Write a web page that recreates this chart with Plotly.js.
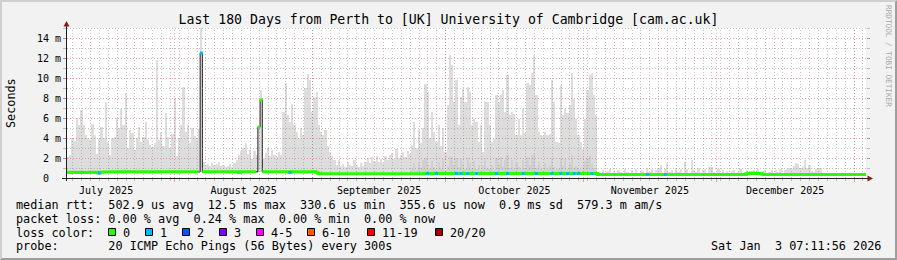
<!DOCTYPE html>
<html>
<head>
<meta charset="utf-8">
<script src="https://cdn.plot.ly/plotly-3.0.1.min.js"></script>
<style>
  html, body { margin: 0; padding: 0; background: #f2f2f2; }
  #chart { width: 897px; height: 260px; }
</style>
</head>
<body>
<div id="chart"></div>
<script>
// ---------------- DATA ----------------
const RANGE_START = '2025-07-07 16:48:00';
const RANGE_END   = '2026-01-03 16:48:00';
const BIN_HOURS = 12;            // one sample every 12 hours, 360 samples

// upper edge of the smoke (ms), one value per 12 h bin
const smokeMax = [
  2.1,2.3,4.0,3.7,6.0,5.3,6.8,5.3,4.3,4.0,
  3.8,5.4,4.3,2.4,3.9,5.1,4.0,7.6,3.6,2.3,
  4.0,4.1,6.0,5.0,6.9,5.3,8.5,3.0,4.8,4.5,
  2.8,4.0,5.1,3.6,4.1,5.6,3.8,3.3,3.1,3.5,
  11.8,3.8,4.6,3.2,6.5,4.1,3.0,4.4,8.0,2.2,
  4.0,5.3,9.1,4.6,5.3,3.5,5.0,4.2,4.0,4.9,
  15.5,
  1.6,1.3,1.4,1.2,1.5,1.3,1.4,1.6,1.2,1.3,1.1,1.2,1.4,1.1,1.5,1.8,
  2.3,2.7,3.0,3.5,2.4,2.8,1.9,2.7,2.3,
  5.2,8.8,
  2.0,2.5,3.0,2.2,2.8,2.3,2.1,2.6,2.3,
  6.6,9.5,6.3,5.6,7.4,5.3,
  4.6,4.0,5.0,4.3,9.0,
  10.4,9.8,6.6,8.1,8.6,
  5.3,4.6,4.3,4.8,3.2,2.6,2.2,1.8,
  1.3,1.8,1.2,1.4,1.1,1.6,1.3,1.2,1.8,1.3,1.1,1.5,1.2,
  1.6,2.0,1.5,2.1,1.7,2.2,1.6,1.9,1.5,2.2,1.8,2.3,
  2.5,1.9,2.9,2.0,2.3,2.6,2.1,2.7,2.4,
  3.3,5.6,3.0,4.8,3.5,5.0,9.4,8.6,4.0,
  6.6,4.6,3.6,5.3,3.2,5.0,2.6,7.3,12.3,11.3,
  7.6,9.8,5.3,8.1,8.9,7.6,9.1,8.6,
  5.3,5.9,5.6,3.6,5.3,2.6,7.7,7.6,5.3,
  3.6,3.9,8.3,7.6,8.3,8.8,6.6,10.3,6.3,
  6.6,6.4,4.3,5.9,4.3,6.9,4.5,9.5,9.3,10.5,
  12.3,8.3,4.6,4.3,4.2,4.6,4.3,4.4,9.8,7.6,
  3.6,3.5,9.3,6.3,6.9,6.5,7.3,10.5,7.9,5.9,
  4.3,3.6,2.9,5.9,8.8,10.3,10.5,8.3,6.3,
  0.6,0.5,0.8,0.5,0.7,0.9,0.5,0.7,0.5,0.8,0.6,0.5,0.9,0.6,0.5,0.8,0.5,0.9,0.5,0.7,
  0.8,0.5,1.0,0.6,0.9,0.5,0.8,1.0,1.3,0.5,0.9,1.5,0.6,0.8,0.5,1.0,0.6,0.9,0.5,1.6,
  0.9,0.5,1.8,0.8,0.6,1.0,0.5,0.8,0.9,0.5,1.1,1.1,0.6,0.5,0.9,0.5,0.8,0.5,0.7,0.5,
  0.7,0.8,0.5,0.6,0.9,0.5,0.6,0.8,0.5,0.6,0.8,0.5,0.9,0.5,0.7,0.8,0.5,0.6,0.8,0.5,
  0.8,0.6,0.9,0.5,0.8,0.9,1.0,0.9,1.2,1.5,1.4,1.0,1.1,1.8,1.0,1.3,0.7,0.6,0.9,1.0,
  1.0,0.7,1.0,0.6,0.9,1.1,0.6,0.9,0.7,0.5,0.9,0.6,0.9,0.7,0.9,0.6,0.9,0.8,0.6,0.9,0.5
];

// denser (darker) inner smoke, from bin 155 to bin 238
const INNER_FIRST_BIN = 155;
const smokeInner = [
  0.9,1.5,0.8,1.6,1.0,1.8,2.0,1.4,0.9,1.7,1.1,0.8,1.6,1.0,1.9,0.8,1.2,2.2,2.1,1.3,
  2.0,1.1,1.9,1.4,0.9,2.0,1.5,1.0,1.7,0.9,1.3,0.8,1.2,1.9,1.0,0.9,1.3,0.8,2.0,1.4,
  2.1,1.2,1.8,2.3,1.0,1.8,0.9,1.5,1.1,0.8,1.8,1.0,2.1,1.3,2.3,2.4,1.0,1.6,0.9,0.8,
  1.5,0.9,1.2,2.0,1.1,0.8,1.0,2.0,1.2,1.9,0.9,1.4,2.3,1.0,1.2,0.9,0.8,1.1,1.7,2.0,2.2,1.4,1.0,0.8
];

// median rtt (ms), one value per 12 h bin
const median = [
  0.57,0.55,0.57,0.58,0.55,0.56,0.58,0.55,0.54,0.56,0.58,0.57,0.55,0.57,0.50,0.58,0.60,0.60,0.61,0.60,
  0.62,0.62,0.61,0.62,0.62,0.61,0.62,0.62,0.63,0.62,0.62,0.61,0.62,0.62,0.62,0.62,0.61,0.62,0.62,0.62,
  0.61,0.62,0.62,0.62,0.62,0.63,0.62,0.62,0.62,0.62,0.61,0.62,0.62,0.62,0.62,0.63,0.62,0.62,0.62,0.61,
  12.5,0.62,0.62,0.62,0.61,0.62,0.62,0.62,0.62,0.62,0.62,0.62,0.61,0.62,0.62,0.62,0.62,0.55,0.62,0.62,
  0.62,0.62,0.62,0.62,0.62,0.62,5.1,7.8,0.62,0.62,0.62,0.61,0.62,0.62,0.62,0.62,0.62,0.62,0.62,0.62,
  0.56,0.62,0.62,0.62,0.62,0.62,0.62,0.61,0.62,0.62,0.62,0.62,0.58,0.44,0.43,0.43,0.42,0.43,0.43,0.43,
  0.43,0.42,0.43,0.43,0.43,0.43,0.42,0.43,0.43,0.43,0.43,0.43,0.42,0.43,0.43,0.43,0.43,0.43,0.43,0.42,
  0.43,0.43,0.43,0.43,0.43,0.43,0.43,0.42,0.43,0.43,0.43,0.43,0.43,0.43,0.43,0.43,0.43,0.43,0.43,0.43,
  0.43,0.44,0.44,0.43,0.44,0.44,0.44,0.44,0.44,0.45,0.44,0.44,0.44,0.45,0.44,0.44,0.44,0.44,0.45,0.44,
  0.44,0.44,0.44,0.44,0.45,0.44,0.44,0.44,0.45,0.44,0.44,0.44,0.44,0.44,0.45,0.44,0.44,0.44,0.44,0.44,
  0.44,0.45,0.44,0.44,0.44,0.44,0.44,0.44,0.45,0.44,0.44,0.44,0.44,0.44,0.44,0.45,0.44,0.44,0.44,0.44,
  0.44,0.44,0.45,0.44,0.44,0.44,0.44,0.44,0.44,0.45,0.44,0.44,0.44,0.44,0.44,0.44,0.45,0.44,0.44,0.35,
  0.35,0.35,0.36,0.35,0.35,0.35,0.35,0.36,0.35,0.35,0.35,0.35,0.35,0.36,0.35,0.35,0.35,0.35,0.35,0.35,
  0.35,0.36,0.35,0.35,0.35,0.35,0.35,0.35,0.36,0.35,0.35,0.35,0.35,0.35,0.35,0.36,0.35,0.35,0.35,0.35,
  0.35,0.35,0.35,0.36,0.35,0.35,0.35,0.35,0.35,0.35,0.35,0.36,0.35,0.35,0.35,0.35,0.35,0.35,0.35,0.35,
  0.35,0.35,0.36,0.35,0.35,0.35,0.42,0.46,0.50,0.44,0.48,0.42,0.45,0.38,0.35,0.35,0.35,0.36,0.35,0.35,
  0.35,0.35,0.35,0.35,0.35,0.35,0.36,0.35,0.35,0.35,0.35,0.35,0.35,0.35,0.36,0.35,0.35,0.35,0.35,0.35
];

// bins where the median jumps (drawn only as the dark median line)
const spikeBins   = [60, 86, 87];
const spikeLoss   = [1, 0, 0];           // loss count at those samples
// bins with 1/20 packets lost
const loss1Bins = [14,100,162,166,175,177,180,184,193,198,205,211,218,222,225,228,230,236,261,269,345,350,351];

// legend
const lossLabels = ['0','1','2','3','4-5','6-10','11-19','20/20'];
const lossColors = ['#26ff00','#00b8ff','#0059ff','#7e00ff','#ff00ff','#ff5a00','#ff0000','#a00000'];

const yTickVals = [0,2,4,6,8,10,12,14];
const yTickText = ['0  ','2 m','4 m','6 m','8 m','10 m','12 m','14 m'];

const TITLE = 'Last 180 Days from Perth to [UK] University of Cambridge [cam.ac.uk]';
const LEGEND_LINES = [
  'median rtt:  502.9 us avg  12.5 ms max  330.6 us min  355.6 us now  0.9 ms sd  579.3 m am/s',
  'packet loss: 0.00 % avg  0.24 % max  0.00 % min  0.00 % now',
  'loss color:',
  'probe:       20 ICMP Echo Pings (56 Bytes) every 300s'
];
const STAMP = 'Sat Jan  3 07:11:56 2026';
const WATERMARK = 'RRDTOOL / TOBI OETIKER';

// ---------------- HELPERS ----------------
const L = 67, R = 866, T = 28, B = 178;
const PX = x => (x - L) / (R - L);
const PY = y => (B - y) / (B - T);
const nb = s => s.replace(/ /g, '\u00a0');
const MONO = 'DejaVu Sans Mono';
const GRID = 'rgba(143,143,143,0.55)';
const MGRID = 'rgba(222,79,79,0.5)';
const DASH = '1px,2px';

const BIN_MS = BIN_HOURS * 3600 * 1000;
const t0 = Date.parse(RANGE_START.replace(' ', 'T') + 'Z');
const tEnd = Date.parse(RANGE_END.replace(' ', 'T') + 'Z');
const fmt = ms => new Date(ms).toISOString().replace('T', ' ').slice(0, 19);
const binStart = median.map((_, i) => fmt(t0 + i * BIN_MS));
const binMid = median.map((_, i) => fmt(t0 + i * BIN_MS + BIN_MS / 2));
const smokeBase = median.map(v => Math.min(v, 0.7) - 0.12);

// ---------------- TRACES ----------------
const traces = [
  {
    type: 'bar', x: binStart, base: smokeBase,
    y: smokeMax.map((v, i) => v - smokeBase[i]),
    width: BIN_MS, offset: 0,
    marker: {color: '#dddddd', line: {width: 0}},
    hoverinfo: 'skip'
  },
  {
    type: 'bar', x: binStart.slice(INNER_FIRST_BIN),
    base: smokeBase.slice(INNER_FIRST_BIN),
    y: smokeInner.map((v, i) => v - smokeBase[INNER_FIRST_BIN + i]),
    width: BIN_MS, offset: 0,
    marker: {color: '#d0d0d0', line: {width: 0}},
    hoverinfo: 'skip'
  },
  {
    type: 'scatter', mode: 'lines',
    x: binStart.concat([RANGE_END]), y: median.concat([median[median.length - 1]]),
    line: {color: '#202020', width: 1, shape: 'hv'},
    hoverinfo: 'skip'
  },
  {
    type: 'scatter', mode: 'lines',
    x: binStart.concat([RANGE_END]),
    y: median.map((v, i) => spikeBins.includes(i) ? null : v).concat([median[median.length - 1]]),
    connectgaps: false,
    line: {color: lossColors[0], width: 3, shape: 'hv'},
    hoverinfo: 'skip'
  },
  {
    type: 'scatter', mode: 'markers',
    x: loss1Bins.map(i => binMid[i]), y: loss1Bins.map(i => median[i]),
    marker: {symbol: 'square', size: 3, color: lossColors[1], line: {width: 0}},
    hoverinfo: 'skip'
  },
  {
    type: 'scatter', mode: 'markers',
    x: spikeBins.map(i => binMid[i]), y: spikeBins.map(i => median[i]),
    marker: {symbol: 'square', size: 3, color: spikeLoss.map(l => lossColors[l]), line: {width: 0}},
    hoverinfo: 'skip'
  }
];

// ---------------- SHAPES ----------------
const shapes = [];
const P = (x, y) => PX(x) + ',' + PY(y);

// grid drawn over the smoke (as rrdtool does)
const xPix = t => L + (t - t0) / (tEnd - t0) * (R - L);
const vline = (px, col) => ({type: 'line', xref: 'paper', yref: 'paper', layer: 'above',
  x0: PX(px), x1: PX(px), y0: 0, y1: 1, line: {color: col, width: 1, dash: DASH}});
const hline = (py, col) => ({type: 'line', xref: 'paper', yref: 'paper', layer: 'above',
  x0: 0, x1: 1, y0: PY(py), y1: PY(py), line: {color: col, width: 1, dash: DASH}});
for (let t = Date.parse('2025-07-07T00:00:00Z'); t < tEnd; t += 2 * 86400000) {
  if (t <= t0) continue;
  shapes.push(vline(Math.floor(xPix(t)) + 0.5, GRID));
}
for (let k = 1; k <= 6; k++) {
  const t = Date.UTC(2025, 6 + k, 1);
  shapes.push(vline(Math.floor(xPix(t)) + 0.5, MGRID));
}
for (let v = 1; v <= 15; v++) {
  shapes.push(hline(B + 0.5 - 10 * v, v % 2 === 0 ? MGRID : GRID));
}

// 3d border
shapes.push({type: 'path', xref: 'paper', yref: 'paper', layer: 'above',
  path: 'M' + P(0, 260) + 'L' + P(2, 258) + 'L' + P(2, 2) + 'L' + P(895, 2) + 'L' + P(897, 0) + 'L' + P(0, 0) + 'Z',
  fillcolor: '#cfcfcf', line: {width: 0}});
shapes.push({type: 'path', xref: 'paper', yref: 'paper', layer: 'above',
  path: 'M' + P(2, 258) + 'L' + P(895, 258) + 'L' + P(895, 2) + 'L' + P(897, 0) + 'L' + P(897, 260) + 'L' + P(0, 260) + 'Z',
  fillcolor: '#9e9e9e', line: {width: 0}});
// axes
shapes.push({type: 'line', xref: 'paper', yref: 'paper', x0: PX(66.5), x1: PX(66.5), y0: PY(181), y1: PY(25),
  line: {color: '#1f1f1f', width: 1}});
shapes.push({type: 'line', xref: 'paper', yref: 'paper', x0: PX(62), x1: PX(868), y0: PY(178.5), y1: PY(178.5),
  line: {color: '#1f1f1f', width: 1}});
shapes.push({type: 'path', xref: 'paper', yref: 'paper',
  path: 'M' + P(66.5, 21) + 'L' + P(63.5, 26.5) + 'L' + P(69.5, 26.5) + 'Z',
  fillcolor: '#801f1f', line: {width: 0}});
shapes.push({type: 'path', xref: 'paper', yref: 'paper',
  path: 'M' + P(873, 178.5) + 'L' + P(867.5, 175.5) + 'L' + P(867.5, 181.5) + 'Z',
  fillcolor: '#801f1f', line: {width: 0}});

// legend boxes
const boxX = [108.5, 145.5, 182.5, 219.5, 256.5, 307.5, 367.5, 435.5];
const annotations = [];
lossLabels.forEach((lab, k) => {
  shapes.push({type: 'rect', xref: 'paper', yref: 'paper',
    x0: PX(boxX[k]), x1: PX(boxX[k] + 7), y0: PY(228.5), y1: PY(235.5),
    fillcolor: lossColors[k], line: {color: '#000000', width: 1}});
  annotations.push({xref: 'paper', yref: 'paper', x: PX(boxX[k] + 13.5), y: PY(232.5),
    xanchor: 'left', yanchor: 'middle', showarrow: false, borderpad: 0,
    text: nb(lab), font: {family: MONO, size: 11.8, color: '#000'}});
});

// text
const lineY = [204.5, 218.5, 232.5, 246.5];
LEGEND_LINES.forEach((s, k) => annotations.push({
  xref: 'paper', yref: 'paper', x: PX(15.4), y: PY(lineY[k]), xanchor: 'left', yanchor: 'middle',
  showarrow: false, borderpad: 0, text: nb(s), font: {family: MONO, size: 11.8, color: '#000'}
}));
annotations.push({xref: 'paper', yref: 'paper', x: PX(881.5), y: PY(246.5), xanchor: 'right', yanchor: 'middle',
  showarrow: false, borderpad: 0, text: nb(STAMP), font: {family: MONO, size: 11.8, color: '#000'}});
annotations.push({xref: 'paper', yref: 'paper', x: PX(11), y: PY(103), xanchor: 'center', yanchor: 'middle',
  textangle: -90, showarrow: false, borderpad: 0, text: 'Seconds', font: {family: MONO, size: 11.8, color: '#000'}});
annotations.push({xref: 'paper', yref: 'paper', x: PX(889), y: PY(56), xanchor: 'center', yanchor: 'middle',
  textangle: 90, showarrow: false, borderpad: 0, text: nb(WATERMARK), font: {family: MONO, size: 7.7, color: '#a8a8a8'}});

// ---------------- LAYOUT ----------------
const layout = {
  width: 897, height: 260,
  margin: {l: L, r: 897 - R, t: T, b: 260 - B, pad: 0},
  paper_bgcolor: '#f2f2f2', plot_bgcolor: '#ffffff',
  showlegend: false, barmode: 'overlay', bargap: 0,
  font: {family: MONO, size: 10, color: '#000'},
  title: {text: nb(TITLE), x: 0.5, xanchor: 'center', xref: 'container', y: 1 - 19 / 260, yanchor: 'middle',
    font: {family: MONO, size: 13.2, color: '#000'}},
  xaxis: {
    type: 'date', range: [RANGE_START, RANGE_END], fixedrange: true,
    tickmode: 'linear', tick0: '2025-07-01', dtick: 'M1', ticklabelmode: 'period', tickformat: '%B %Y',
    showgrid: false,
    ticks: 'outside', ticklen: 3, tickwidth: 1, tickcolor: MGRID,
    minor: {tick0: '2025-07-07', dtick: 2 * 86400000, showgrid: false,
      ticks: 'outside', ticklen: 2, tickwidth: 1, tickcolor: GRID},
    showline: false, zeroline: false,
    tickfont: {family: MONO, size: 10, color: '#000'}
  },
  yaxis: {
    range: [0, 15], fixedrange: true,
    tickmode: 'array', tickvals: yTickVals, ticktext: yTickText.map(nb),
    showgrid: false,
    ticks: 'outside', ticklen: 3, tickwidth: 1, tickcolor: MGRID, mirror: 'ticks',
    minor: {tickmode: 'linear', tick0: 0, dtick: 1, showgrid: false,
      ticks: 'outside', ticklen: 3, tickwidth: 1, tickcolor: GRID},
    showline: false, zeroline: false,
    tickfont: {family: MONO, size: 10, color: '#000'}
  },
  shapes: shapes,
  annotations: annotations
};

Plotly.newPlot('chart', traces, layout, {staticPlot: true, displayModeBar: false});
</script>
</body>
</html>
